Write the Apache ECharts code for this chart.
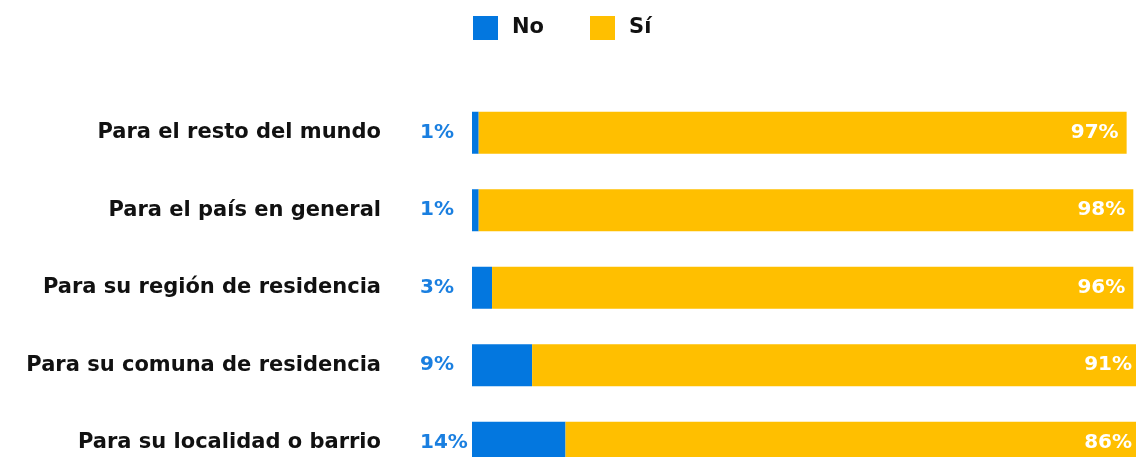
<!DOCTYPE html>
<html lang="es">
<head>
<meta charset="UTF-8">
<title>Chart</title>
<script src="https://cdn.jsdelivr.net/npm/echarts@6/dist/echarts.min.js"></script>
<style>
  html, body { margin: 0; padding: 0; background: #fff; }
  #main { width: 1136px; height: 457px; }
</style>
</head>
<body>
<div id="main"></div>
<script>
  // categorias, de arriba hacia abajo
  const categorias = [
    "Para el resto del mundo",
    "Para el país en general",
    "Para su región de residencia",
    "Para su comuna de residencia",
    "Para su localidad o barrio"
  ];
  const valoresNo = [1, 1, 3, 9, 14];
  const valoresSi = [97, 98, 96, 91, 86];

  const azul = "#0377df";
  const amarillo = "#ffbf00";
  const fuente = "'DejaVu Sans', sans-serif";

  var myChart = echarts.init(document.getElementById("main"));
  var option = {
    animation: false,
    legend: {
      left: 468,
      top: 11,
      itemWidth: 25,
      itemHeight: 24,
      itemGap: 46,
      icon: "rect",
      textStyle: {
        fontFamily: fuente,
        fontWeight: "bold",
        fontSize: 21,
        color: "#111",
        padding: [0, 0, 0, 9]
      },
      data: ["No", "Sí"]
    },
    grid: {
      left: 472,
      top: 94,
      width: 668,
      height: 387.5,
      outerBoundsMode: "none",
      containLabel: false
    },
    xAxis: {
      type: "value",
      min: 0,
      max: 100,
      show: false
    },
    yAxis: {
      type: "category",
      inverse: true,
      data: categorias,
      axisLine: { show: false },
      axisTick: { show: false },
      axisLabel: {
        margin: 91,
        fontFamily: fuente,
        fontWeight: "bold",
        fontSize: 21,
        color: "#111"
      }
    },
    series: [
      {
        name: "No",
        type: "bar",
        stack: "total",
        barWidth: 42,
        itemStyle: { color: azul },
        label: {
          show: true,
          position: [-52, "50%"],
          align: "left",
          verticalAlign: "middle",
          formatter: "{c}%",
          fontFamily: fuente,
          fontWeight: "bold",
          fontSize: 20,
          color: "#1a7fe0"
        },
        data: valoresNo
      },
      {
        name: "Sí",
        type: "bar",
        stack: "total",
        barWidth: 42,
        itemStyle: { color: amarillo },
        label: {
          show: true,
          position: "insideRight",
          distance: 8,
          formatter: "{c}%",
          fontFamily: fuente,
          fontWeight: "bold",
          fontSize: 20,
          color: "#fff"
        },
        data: valoresSi
      }
    ]
  };
  myChart.setOption(option);
</script>
</body>
</html>
